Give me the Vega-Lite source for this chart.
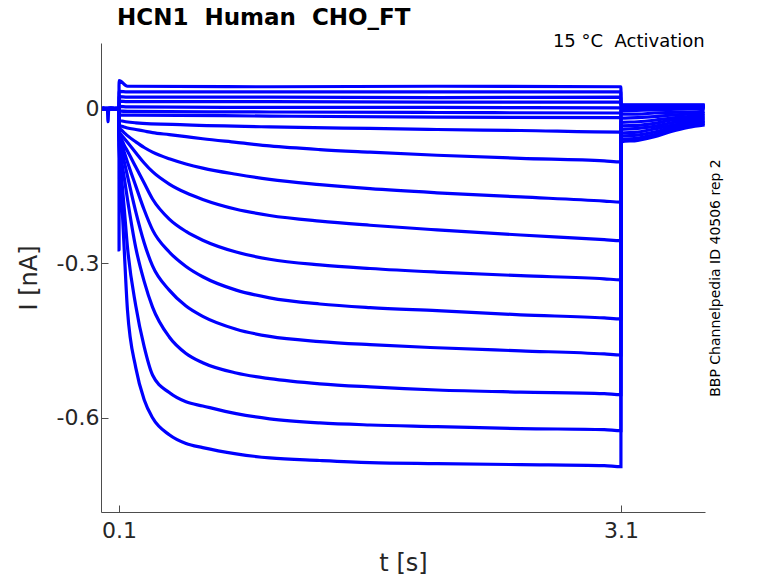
{
  "$schema": "https://vega.github.io/schema/vega-lite/v6.json",
  "description": "HCN1 activation current traces",
  "background": "white",
  "autosize": "none",
  "padding": {"left": 101, "top": 43, "right": 73, "bottom": 71},
  "width": 604,
  "height": 469,
  "title": {
    "text": "HCN1\u00a0 Human\u00a0 CHO_FT",
    "anchor": "start",
    "frame": "group",
    "dx": 16,
    "offset": 3,
    "fontSize": 23,
    "fontWeight": "bold",
    "color": "#000000"
  },
  "data": {
    "values": [
      {"k":"c1","t":0,"i":0.002},{"k":"c1","t":0.05,"i":0.001},{"k":"c1","t":0.0995,"i":0.001},{"k":"c1","t":0.1,"i":0.055},{"k":"c1","t":0.15,"i":0.044},{"k":"c1","t":1,"i":0.043},{"k":"c1","t":2,"i":0.044},{"k":"c1","t":3.0995,"i":0.043},{"k":"c1","t":3.1,"i":0.008},{"k":"c1","t":3.6,"i":0.008},
      {"k":"c2","t":0,"i":0.001},{"k":"c2","t":0.05,"i":0.002},{"k":"c2","t":0.0995,"i":0.001},{"k":"c2","t":0.1,"i":0.034},{"k":"c2","t":0.15,"i":0.033},{"k":"c2","t":1,"i":0.033},{"k":"c2","t":2,"i":0.033},{"k":"c2","t":3.0995,"i":0.033},{"k":"c2","t":3.1,"i":0.007},{"k":"c2","t":3.6,"i":0.007},
      {"k":"c3","t":0,"i":0.0},{"k":"c3","t":0.05,"i":0.001},{"k":"c3","t":0.0995,"i":0.0},{"k":"c3","t":0.1,"i":0.024},{"k":"c3","t":0.15,"i":0.023},{"k":"c3","t":1,"i":0.023},{"k":"c3","t":2,"i":0.022},{"k":"c3","t":3.0995,"i":0.023},{"k":"c3","t":3.1,"i":0.006},{"k":"c3","t":3.6,"i":0.006},
      {"k":"c4","t":0,"i":0.001},{"k":"c4","t":0.05,"i":0.0},{"k":"c4","t":0.0995,"i":0.001},{"k":"c4","t":0.1,"i":0.015},{"k":"c4","t":0.15,"i":0.014},{"k":"c4","t":1,"i":0.014},{"k":"c4","t":2,"i":0.013},{"k":"c4","t":3.0995,"i":0.013},{"k":"c4","t":3.1,"i":0.005},{"k":"c4","t":3.6,"i":0.005},
      {"k":"c5","t":0,"i":0.0},{"k":"c5","t":0.05,"i":-0.001},{"k":"c5","t":0.0995,"i":0.0},{"k":"c5","t":0.1,"i":0.005},{"k":"c5","t":0.15,"i":0.004},{"k":"c5","t":1,"i":0.003},{"k":"c5","t":2,"i":0.003},{"k":"c5","t":3.0995,"i":0.002},{"k":"c5","t":3.1,"i":0.004},{"k":"c5","t":3.6,"i":0.004},
      {"k":"c6","t":0,"i":-0.001},{"k":"c6","t":0.05,"i":0.0},{"k":"c6","t":0.0995,"i":-0.001},{"k":"c6","t":0.1,"i":-0.004},{"k":"c6","t":0.15,"i":-0.005},{"k":"c6","t":1,"i":-0.006},{"k":"c6","t":2,"i":-0.007},{"k":"c6","t":3.0995,"i":-0.008},{"k":"c6","t":3.1,"i":0.002},{"k":"c6","t":3.6,"i":0.004},
      {"k":"c7","t":0,"i":0.0},{"k":"c7","t":0.05,"i":0.0},{"k":"c7","t":0.0995,"i":0.0},{"k":"c7","t":0.1,"i":-0.012},{"k":"c7","t":0.15,"i":-0.012},{"k":"c7","t":1,"i":-0.014},{"k":"c7","t":2,"i":-0.016},{"k":"c7","t":3.0995,"i":-0.017},{"k":"c7","t":3.1,"i":-0.001},{"k":"c7","t":3.6,"i":0.002},
      {"k":"a1","t":0,"i":0.001},{"k":"a1","t":0.05,"i":0.0},{"k":"a1","t":0.0995,"i":0.001},{"k":"a1","t":0.1,"i":-0.022},{"k":"a1","t":0.2,"i":-0.027},{"k":"a1","t":0.5,"i":-0.031},{"k":"a1","t":1.0,"i":-0.035},{"k":"a1","t":1.6,"i":-0.038},{"k":"a1","t":2.0,"i":-0.040},{"k":"a1","t":2.5,"i":-0.042},{"k":"a1","t":3.0995,"i":-0.045},{"k":"a1","t":3.1,"i":-0.004},{"k":"a1","t":3.3,"i":-0.002},{"k":"a1","t":3.6,"i":0.001},
      {"k":"a2","t":0,"i":0.0},{"k":"a2","t":0.05,"i":0.001},{"k":"a2","t":0.0995,"i":0.0},{"k":"a2","t":0.1,"i":-0.031},{"k":"a2","t":0.11,"i":-0.033},{"k":"a2","t":0.13,"i":-0.035},{"k":"a2","t":0.15,"i":-0.037},{"k":"a2","t":0.2,"i":-0.040},{"k":"a2","t":0.25,"i":-0.043},{"k":"a2","t":0.3,"i":-0.046},{"k":"a2","t":0.4,"i":-0.050},{"k":"a2","t":0.5,"i":-0.054},{"k":"a2","t":0.6,"i":-0.058},{"k":"a2","t":0.8,"i":-0.065},{"k":"a2","t":1.0,"i":-0.072},{"k":"a2","t":1.3,"i":-0.079},{"k":"a2","t":1.6,"i":-0.084},{"k":"a2","t":2.0,"i":-0.090},{"k":"a2","t":2.5,"i":-0.096},{"k":"a2","t":3.0,"i":-0.101},{"k":"a2","t":3.0995,"i":-0.103},{"k":"a2","t":3.1,"i":-0.010},{"k":"a2","t":3.2,"i":-0.010},{"k":"a2","t":3.3,"i":-0.008},{"k":"a2","t":3.4,"i":-0.007},{"k":"a2","t":3.5,"i":-0.006},{"k":"a2","t":3.6,"i":-0.005},
      {"k":"a3","t":0,"i":0.001},{"k":"a3","t":0.05,"i":0.0},{"k":"a3","t":0.0995,"i":0.001},{"k":"a3","t":0.1,"i":-0.037},{"k":"a3","t":0.11,"i":-0.040},{"k":"a3","t":0.13,"i":-0.046},{"k":"a3","t":0.15,"i":-0.052},{"k":"a3","t":0.2,"i":-0.064},{"k":"a3","t":0.25,"i":-0.075},{"k":"a3","t":0.3,"i":-0.084},{"k":"a3","t":0.4,"i":-0.097},{"k":"a3","t":0.5,"i":-0.107},{"k":"a3","t":0.6,"i":-0.115},{"k":"a3","t":0.8,"i":-0.127},{"k":"a3","t":1.0,"i":-0.137},{"k":"a3","t":1.3,"i":-0.147},{"k":"a3","t":1.6,"i":-0.155},{"k":"a3","t":2.0,"i":-0.163},{"k":"a3","t":2.5,"i":-0.171},{"k":"a3","t":3.0,"i":-0.179},{"k":"a3","t":3.0995,"i":-0.181},{"k":"a3","t":3.1,"i":-0.018},{"k":"a3","t":3.2,"i":-0.017},{"k":"a3","t":3.3,"i":-0.015},{"k":"a3","t":3.4,"i":-0.012},{"k":"a3","t":3.5,"i":-0.010},{"k":"a3","t":3.6,"i":-0.009},
      {"k":"a4","t":0,"i":0.0},{"k":"a4","t":0.05,"i":0.001},{"k":"a4","t":0.0995,"i":0.0},{"k":"a4","t":0.1,"i":-0.045},{"k":"a4","t":0.11,"i":-0.049},{"k":"a4","t":0.13,"i":-0.057},{"k":"a4","t":0.15,"i":-0.065},{"k":"a4","t":0.2,"i":-0.085},{"k":"a4","t":0.25,"i":-0.105},{"k":"a4","t":0.3,"i":-0.122},{"k":"a4","t":0.4,"i":-0.146},{"k":"a4","t":0.5,"i":-0.163},{"k":"a4","t":0.6,"i":-0.176},{"k":"a4","t":0.8,"i":-0.195},{"k":"a4","t":1.0,"i":-0.207},{"k":"a4","t":1.3,"i":-0.218},{"k":"a4","t":1.6,"i":-0.226},{"k":"a4","t":2.0,"i":-0.235},{"k":"a4","t":2.5,"i":-0.245},{"k":"a4","t":3.0,"i":-0.254},{"k":"a4","t":3.0995,"i":-0.256},{"k":"a4","t":3.1,"i":-0.026},{"k":"a4","t":3.2,"i":-0.025},{"k":"a4","t":3.3,"i":-0.022},{"k":"a4","t":3.4,"i":-0.018},{"k":"a4","t":3.5,"i":-0.015},{"k":"a4","t":3.6,"i":-0.012},
      {"k":"a5","t":0,"i":0.001},{"k":"a5","t":0.05,"i":0.0},{"k":"a5","t":0.0995,"i":0.001},{"k":"a5","t":0.1,"i":-0.050},{"k":"a5","t":0.11,"i":-0.056},{"k":"a5","t":0.13,"i":-0.070},{"k":"a5","t":0.15,"i":-0.082},{"k":"a5","t":0.2,"i":-0.113},{"k":"a5","t":0.25,"i":-0.144},{"k":"a5","t":0.3,"i":-0.175},{"k":"a5","t":0.4,"i":-0.214},{"k":"a5","t":0.5,"i":-0.238},{"k":"a5","t":0.6,"i":-0.255},{"k":"a5","t":0.8,"i":-0.278},{"k":"a5","t":1.0,"i":-0.292},{"k":"a5","t":1.3,"i":-0.303},{"k":"a5","t":1.6,"i":-0.310},{"k":"a5","t":2.0,"i":-0.317},{"k":"a5","t":2.5,"i":-0.324},{"k":"a5","t":3.0,"i":-0.330},{"k":"a5","t":3.0995,"i":-0.332},{"k":"a5","t":3.1,"i":-0.033},{"k":"a5","t":3.2,"i":-0.032},{"k":"a5","t":3.3,"i":-0.028},{"k":"a5","t":3.4,"i":-0.022},{"k":"a5","t":3.5,"i":-0.019},{"k":"a5","t":3.6,"i":-0.016},
      {"k":"a6","t":0,"i":0.0},{"k":"a6","t":0.05,"i":0.001},{"k":"a6","t":0.0995,"i":0.0},{"k":"a6","t":0.1,"i":-0.054},{"k":"a6","t":0.11,"i":-0.062},{"k":"a6","t":0.13,"i":-0.083},{"k":"a6","t":0.15,"i":-0.103},{"k":"a6","t":0.2,"i":-0.150},{"k":"a6","t":0.25,"i":-0.196},{"k":"a6","t":0.3,"i":-0.235},{"k":"a6","t":0.4,"i":-0.278},{"k":"a6","t":0.5,"i":-0.306},{"k":"a6","t":0.6,"i":-0.326},{"k":"a6","t":0.8,"i":-0.352},{"k":"a6","t":1.0,"i":-0.367},{"k":"a6","t":1.3,"i":-0.379},{"k":"a6","t":1.6,"i":-0.386},{"k":"a6","t":2.0,"i":-0.392},{"k":"a6","t":2.5,"i":-0.400},{"k":"a6","t":3.0,"i":-0.406},{"k":"a6","t":3.0995,"i":-0.408},{"k":"a6","t":3.1,"i":-0.040},{"k":"a6","t":3.2,"i":-0.038},{"k":"a6","t":3.3,"i":-0.034},{"k":"a6","t":3.4,"i":-0.027},{"k":"a6","t":3.5,"i":-0.023},{"k":"a6","t":3.6,"i":-0.019},
      {"k":"a7","t":0,"i":0.001},{"k":"a7","t":0.05,"i":0.0},{"k":"a7","t":0.0995,"i":0.001},{"k":"a7","t":0.1,"i":-0.060},{"k":"a7","t":0.11,"i":-0.070},{"k":"a7","t":0.13,"i":-0.101},{"k":"a7","t":0.15,"i":-0.130},{"k":"a7","t":0.2,"i":-0.200},{"k":"a7","t":0.25,"i":-0.260},{"k":"a7","t":0.3,"i":-0.305},{"k":"a7","t":0.4,"i":-0.352},{"k":"a7","t":0.5,"i":-0.383},{"k":"a7","t":0.6,"i":-0.403},{"k":"a7","t":0.8,"i":-0.428},{"k":"a7","t":1.0,"i":-0.442},{"k":"a7","t":1.3,"i":-0.452},{"k":"a7","t":1.6,"i":-0.458},{"k":"a7","t":2.0,"i":-0.464},{"k":"a7","t":2.5,"i":-0.470},{"k":"a7","t":3.0,"i":-0.476},{"k":"a7","t":3.0995,"i":-0.478},{"k":"a7","t":3.1,"i":-0.047},{"k":"a7","t":3.2,"i":-0.045},{"k":"a7","t":3.3,"i":-0.039},{"k":"a7","t":3.4,"i":-0.032},{"k":"a7","t":3.5,"i":-0.027},{"k":"a7","t":3.6,"i":-0.023},
      {"k":"a8","t":0,"i":0.0},{"k":"a8","t":0.05,"i":0.001},{"k":"a8","t":0.0995,"i":0.0},{"k":"a8","t":0.1,"i":-0.070},{"k":"a8","t":0.11,"i":-0.091},{"k":"a8","t":0.13,"i":-0.132},{"k":"a8","t":0.15,"i":-0.175},{"k":"a8","t":0.2,"i":-0.270},{"k":"a8","t":0.25,"i":-0.335},{"k":"a8","t":0.3,"i":-0.385},{"k":"a8","t":0.4,"i":-0.443},{"k":"a8","t":0.5,"i":-0.475},{"k":"a8","t":0.6,"i":-0.493},{"k":"a8","t":0.8,"i":-0.513},{"k":"a8","t":1.0,"i":-0.524},{"k":"a8","t":1.3,"i":-0.534},{"k":"a8","t":1.6,"i":-0.540},{"k":"a8","t":2.0,"i":-0.546},{"k":"a8","t":2.5,"i":-0.550},{"k":"a8","t":3.0,"i":-0.553},{"k":"a8","t":3.0995,"i":-0.555},{"k":"a8","t":3.1,"i":-0.053},{"k":"a8","t":3.2,"i":-0.051},{"k":"a8","t":3.3,"i":-0.045},{"k":"a8","t":3.4,"i":-0.036},{"k":"a8","t":3.5,"i":-0.030},{"k":"a8","t":3.6,"i":-0.025},
      {"k":"a9","t":0,"i":0.001},{"k":"a9","t":0.05,"i":0.0},{"k":"a9","t":0.0995,"i":0.001},{"k":"a9","t":0.1,"i":-0.080},{"k":"a9","t":0.11,"i":-0.115},{"k":"a9","t":0.13,"i":-0.190},{"k":"a9","t":0.15,"i":-0.268},{"k":"a9","t":0.2,"i":-0.383},{"k":"a9","t":0.25,"i":-0.462},{"k":"a9","t":0.3,"i":-0.517},{"k":"a9","t":0.4,"i":-0.551},{"k":"a9","t":0.5,"i":-0.569},{"k":"a9","t":0.6,"i":-0.577},{"k":"a9","t":0.8,"i":-0.592},{"k":"a9","t":1.0,"i":-0.602},{"k":"a9","t":1.3,"i":-0.610},{"k":"a9","t":1.6,"i":-0.614},{"k":"a9","t":2.0,"i":-0.617},{"k":"a9","t":2.5,"i":-0.621},{"k":"a9","t":3.0,"i":-0.623},{"k":"a9","t":3.0995,"i":-0.625},{"k":"a9","t":3.1,"i":-0.059},{"k":"a9","t":3.2,"i":-0.057},{"k":"a9","t":3.3,"i":-0.050},{"k":"a9","t":3.4,"i":-0.040},{"k":"a9","t":3.5,"i":-0.034},{"k":"a9","t":3.6,"i":-0.028},
      {"k":"a10","t":0,"i":0.0},{"k":"a10","t":0.03,"i":0.001},{"k":"a10","t":0.034,"i":-0.025},{"k":"a10","t":0.038,"i":0.0},{"k":"a10","t":0.0995,"i":0.001},{"k":"a10","t":0.1,"i":-0.274},{"k":"a10","t":0.1006,"i":-0.089},{"k":"a10","t":0.11,"i":-0.140},{"k":"a10","t":0.13,"i":-0.268},{"k":"a10","t":0.15,"i":-0.390},{"k":"a10","t":0.2,"i":-0.503},{"k":"a10","t":0.25,"i":-0.565},{"k":"a10","t":0.3,"i":-0.600},{"k":"a10","t":0.4,"i":-0.633},{"k":"a10","t":0.5,"i":-0.650},{"k":"a10","t":0.6,"i":-0.658},{"k":"a10","t":0.8,"i":-0.670},{"k":"a10","t":1.0,"i":-0.678},{"k":"a10","t":1.3,"i":-0.683},{"k":"a10","t":1.6,"i":-0.687},{"k":"a10","t":2.0,"i":-0.689},{"k":"a10","t":2.5,"i":-0.691},{"k":"a10","t":3.0,"i":-0.693},{"k":"a10","t":3.0995,"i":-0.695},{"k":"a10","t":3.1,"i":-0.064},{"k":"a10","t":3.2,"i":-0.061},{"k":"a10","t":3.3,"i":-0.054},{"k":"a10","t":3.4,"i":-0.044},{"k":"a10","t":3.5,"i":-0.036},{"k":"a10","t":3.6,"i":-0.031}
    ]
  },
  "layer": [
    {
      "mark": {"type": "line", "color": "#0000ff", "strokeWidth": 3.2, "interpolate": "monotone", "clip": true},
      "encoding": {
        "x": {
          "field": "t",
          "type": "quantitative",
          "scale": {"domain": [-0.008, 3.602], "nice": false, "zero": false},
          "axis": {"values": [0.1, 3.1], "format": ".1f", "title": "t [s]", "tickSize": -7, "labelPadding": 15, "titlePadding": 10}
        },
        "y": {
          "field": "i",
          "type": "quantitative",
          "scale": {"domain": [-0.783, 0.128], "nice": false, "zero": false},
          "axis": {
            "values": [0, -0.3, -0.6],
            "labelExpr": "datum.value == 0 ? '0' : '-' + format(-datum.value, '.1f')",
            "title": "I [nA]",
            "tickSize": -7,
            "labelPadding": 9,
            "titlePadding": 15
          }
        },
        "detail": {"field": "k", "type": "nominal"}
      }
    },
    {
      "data": {"values": [{"label": "15 °C\u00a0 Activation"}]},
      "mark": {"type": "text", "align": "right", "baseline": "alphabetic", "dy": 4, "fontSize": 18, "color": "#000000"},
      "encoding": {
        "x": {"datum": 3.6, "type": "quantitative", "axis": {"title": "t [s]"}},
        "y": {
          "datum": 0.128,
          "type": "quantitative",
          "axis": {
            "orient": "right",
            "title": "BBP Channelpedia ID 40506 rep 2",
            "titleFontSize": 14,
            "titleAngle": 270,
            "titlePadding": 17,
            "titleColor": "#000000",
            "labels": false,
            "ticks": false,
            "domain": false
          }
        },
        "text": {"field": "label", "type": "nominal"}
      }
    }
  ],
  "resolve": {"axis": {"y": "independent"}},
  "config": {
    "font": "DejaVu Sans",
    "view": {"stroke": null},
    "axis": {
      "grid": false,
      "domainColor": "#4d4d4d",
      "tickColor": "#4d4d4d",
      "labelColor": "#262626",
      "titleColor": "#262626",
      "labelFont": "DejaVu Sans",
      "titleFont": "DejaVu Sans",
      "labelFontSize": 22,
      "titleFontSize": 24,
      "titleFontWeight": "normal",
      "labelFlush": false
    }
  }
}
